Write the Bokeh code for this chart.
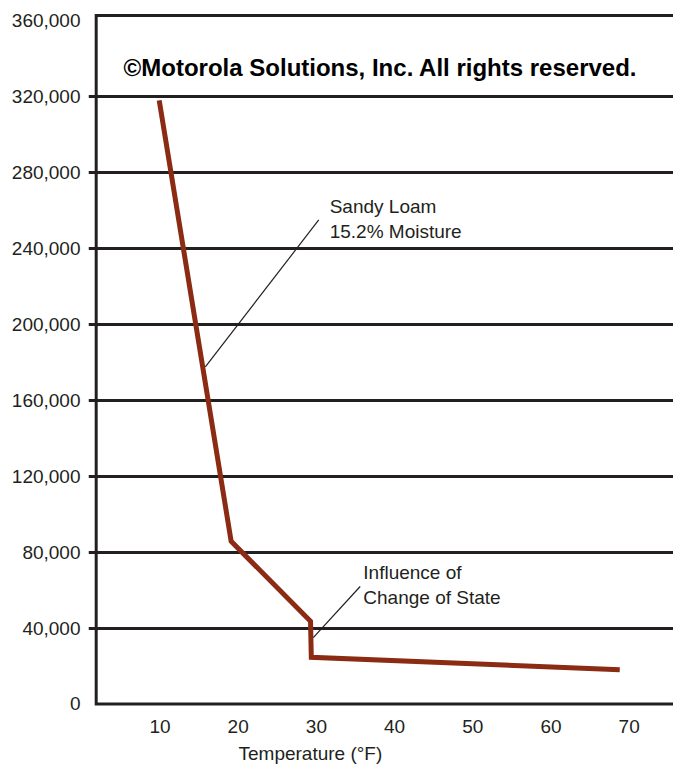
from bokeh.plotting import figure
from bokeh.models import Range1d, FixedTicker, Label, NumeralTickFormatter, Title
from bokeh.embed import file_html
from bokeh.resources import INLINE

# ---- data ----
temps = [9.9, 19.1, 29.25, 29.35, 68.8]
strength = [318000, 85700, 43600, 24600, 18100]

x_ticks = [10, 20, 30, 40, 50, 60, 70]
y_ticks = [0, 40000, 80000, 120000, 160000, 200000, 240000, 280000, 320000, 360000]
y_grid_ticks = [40000, 80000, 120000, 160000, 200000, 240000, 280000, 320000]

title_text = "©Motorola Solutions, Inc. All rights reserved."
x_label_text = "Temperature (°F)"
note1_lines = ["Sandy Loam", "15.2% Moisture"]
note2_lines = ["Influence of", "Change of State"]
note1_leader_x = [30.3, 15.8]
note1_leader_y = [255000, 177600]
note2_leader_x = [35.6, 29.6]
note2_leader_y = [61900, 35000]

# chart box (axis origin and top border)
x_origin = 1.84
y_top = 362700

INK = "#231f20"
CURVE = "#8b2b13"
FONT = "Liberation Sans"

X_START, X_END = 0.857, 75.67
p = figure(width=673, height=774, output_backend="svg", toolbar_location=None,
           x_range=Range1d(X_START, X_END), y_range=Range1d(-1844, 364280),
           min_border_left=88, min_border_right=0, min_border_top=12, min_border_bottom=67)
p.outline_line_color = None
p.background_fill_color = "white"
p.border_fill_color = "white"

# bottom axis: labels only
p.xaxis.ticker = FixedTicker(ticks=x_ticks)
p.xaxis.axis_line_color = None
p.xaxis.major_tick_line_color = None
p.xaxis.minor_tick_line_color = None
p.xaxis.major_tick_out = 0
p.xaxis.major_tick_in = 0
p.xaxis.major_label_text_font = FONT
p.xaxis.major_label_text_font_size = "19px"
p.xaxis.major_label_text_color = INK
p.xaxis.major_label_standoff = 12

# left axis: labels only
p.yaxis.ticker = FixedTicker(ticks=y_ticks)
p.yaxis.formatter = NumeralTickFormatter(format="0,0")
p.yaxis.axis_line_color = None
p.yaxis.major_tick_line_color = None
p.yaxis.minor_tick_line_color = None
p.yaxis.major_tick_out = 0
p.yaxis.major_tick_in = 0
p.yaxis.major_label_text_font = FONT
p.yaxis.major_label_text_font_size = "19px"
p.yaxis.major_label_text_color = INK
p.yaxis.major_label_standoff = 8

# horizontal rules (they run into the left margin like tick marks)
p.xgrid.grid_line_color = None
p.ygrid.ticker = FixedTicker(ticks=y_grid_ticks)
p.ygrid.grid_line_color = INK
p.ygrid.grid_line_width = 3

# frame: top border, left axis, bottom axis
p.line([X_END, x_origin, x_origin, X_END], [y_top, y_top, 0, 0],
       line_width=3, line_color=INK, line_join="miter")

# x-axis title, left-shifted as in reference
p.add_layout(Title(text=x_label_text, align="left", offset=150, text_font=FONT,
                   text_font_size="19px", text_font_style="normal", text_color=INK,
                   standoff=10), "below")

# copyright title inside plot
p.add_layout(Label(x=38.2, y=335300, text=title_text, text_align="center", text_baseline="middle",
                   text_font=FONT, text_font_size="24px", text_font_style="bold", text_color="black"))

# curve
p.line(temps, strength, line_width=5, line_color=CURVE, line_join="miter", line_cap="butt")

# annotations
p.line(note1_leader_x, note1_leader_y, line_width=1.2, line_color=INK)
p.line(note2_leader_x, note2_leader_y, line_width=1.2, line_color=INK)
for i, t in enumerate(note1_lines):
    p.add_layout(Label(x=31.7, y=262000 - i * 13200, text=t, text_align="left", text_baseline="middle",
                       text_font=FONT, text_font_size="19px", text_color=INK))
for i, t in enumerate(note2_lines):
    p.add_layout(Label(x=36.0, y=69300 - i * 13200, text=t, text_align="left", text_baseline="middle",
                       text_font=FONT, text_font_size="19px", text_color=INK))

open("out.html", "w").write(file_html(p, INLINE))
